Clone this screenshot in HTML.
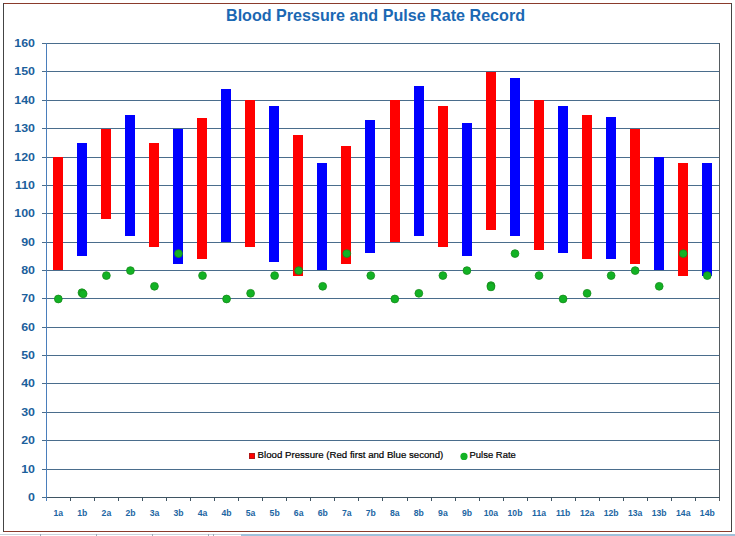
<!DOCTYPE html>
<html><head><meta charset="utf-8"><title>Blood Pressure and Pulse Rate Record</title>
<style>
html,body{margin:0;padding:0;background:#fff;}
body{width:735px;height:536px;position:relative;overflow:hidden;font-family:"Liberation Sans",sans-serif;}
</style></head><body>
<svg width="735" height="536" viewBox="0 0 735 536" style="position:absolute;left:0;top:0">
<rect x="0" y="533" width="735" height="3" fill="#ffffff"/>
<rect x="0" y="534" width="241" height="1" fill="#c9d3dc"/>
<rect x="241" y="534" width="494" height="2" fill="#9fc0da"/>
<rect x="40" y="534" width="1" height="2" fill="#9aa8b6"/>
<rect x="96" y="534" width="1" height="2" fill="#9aa8b6"/>
<rect x="152" y="534" width="1" height="2" fill="#9aa8b6"/>
<rect x="208" y="534" width="1" height="2" fill="#9aa8b6"/>
<rect x="213" y="534" width="1" height="2" fill="#9aa8b6"/>
<rect x="3.5" y="3.5" width="728" height="528" fill="#ffffff" stroke="none"/>
<line x1="3" y1="3.5" x2="732" y2="3.5" stroke="#8a3b2c" stroke-width="1"/>
<line x1="3" y1="531.5" x2="732" y2="531.5" stroke="#8a3b2c" stroke-width="1"/>
<line x1="3.5" y1="3" x2="3.5" y2="532" stroke="#444" stroke-width="1"/>
<line x1="731.5" y1="3" x2="731.5" y2="532" stroke="#444" stroke-width="1"/>
<text x="226" y="21" font-family="Liberation Sans, sans-serif" font-weight="bold" font-size="16.5" fill="#1b68b3" textLength="299" lengthAdjust="spacingAndGlyphs">Blood Pressure and Pulse Rate Record</text>
<rect x="46" y="469" width="673" height="1" fill="#4a6d8c"/>
<rect x="46" y="440" width="673" height="1" fill="#4a6d8c"/>
<rect x="46" y="412" width="673" height="1" fill="#4a6d8c"/>
<rect x="46" y="383" width="673" height="1" fill="#4a6d8c"/>
<rect x="46" y="355" width="673" height="1" fill="#4a6d8c"/>
<rect x="46" y="327" width="673" height="1" fill="#4a6d8c"/>
<rect x="46" y="298" width="673" height="1" fill="#4a6d8c"/>
<rect x="46" y="270" width="673" height="1" fill="#4a6d8c"/>
<rect x="46" y="242" width="673" height="1" fill="#4a6d8c"/>
<rect x="46" y="213" width="673" height="1" fill="#4a6d8c"/>
<rect x="46" y="185" width="673" height="1" fill="#4a6d8c"/>
<rect x="46" y="157" width="673" height="1" fill="#4a6d8c"/>
<rect x="46" y="128" width="673" height="1" fill="#4a6d8c"/>
<rect x="46" y="100" width="673" height="1" fill="#4a6d8c"/>
<rect x="46" y="71" width="673" height="1" fill="#4a6d8c"/>
<rect x="46" y="43" width="673" height="1" fill="#4a6d8c"/>
<rect x="719" y="43" width="1" height="458" fill="#555b60"/>
<rect x="46" y="497" width="674" height="1" fill="#3f5563"/>
<rect x="70" y="498" width="1" height="3" fill="#3f5563"/>
<rect x="94" y="498" width="1" height="3" fill="#3f5563"/>
<rect x="118" y="498" width="1" height="3" fill="#3f5563"/>
<rect x="142" y="498" width="1" height="3" fill="#3f5563"/>
<rect x="166" y="498" width="1" height="3" fill="#3f5563"/>
<rect x="190" y="498" width="1" height="3" fill="#3f5563"/>
<rect x="214" y="498" width="1" height="3" fill="#3f5563"/>
<rect x="238" y="498" width="1" height="3" fill="#3f5563"/>
<rect x="262" y="498" width="1" height="3" fill="#3f5563"/>
<rect x="286" y="498" width="1" height="3" fill="#3f5563"/>
<rect x="310" y="498" width="1" height="3" fill="#3f5563"/>
<rect x="334" y="498" width="1" height="3" fill="#3f5563"/>
<rect x="358" y="498" width="1" height="3" fill="#3f5563"/>
<rect x="382" y="498" width="1" height="3" fill="#3f5563"/>
<rect x="407" y="498" width="1" height="3" fill="#3f5563"/>
<rect x="431" y="498" width="1" height="3" fill="#3f5563"/>
<rect x="455" y="498" width="1" height="3" fill="#3f5563"/>
<rect x="479" y="498" width="1" height="3" fill="#3f5563"/>
<rect x="503" y="498" width="1" height="3" fill="#3f5563"/>
<rect x="527" y="498" width="1" height="3" fill="#3f5563"/>
<rect x="551" y="498" width="1" height="3" fill="#3f5563"/>
<rect x="575" y="498" width="1" height="3" fill="#3f5563"/>
<rect x="599" y="498" width="1" height="3" fill="#3f5563"/>
<rect x="623" y="498" width="1" height="3" fill="#3f5563"/>
<rect x="647" y="498" width="1" height="3" fill="#3f5563"/>
<rect x="671" y="498" width="1" height="3" fill="#3f5563"/>
<rect x="695" y="498" width="1" height="3" fill="#3f5563"/>
<rect x="46" y="43" width="1" height="458" fill="#4a7ebb"/>
<rect x="42" y="497" width="4" height="1" fill="#4a6d8c"/>
<rect x="42" y="469" width="4" height="1" fill="#4a6d8c"/>
<rect x="42" y="440" width="4" height="1" fill="#4a6d8c"/>
<rect x="42" y="412" width="4" height="1" fill="#4a6d8c"/>
<rect x="42" y="383" width="4" height="1" fill="#4a6d8c"/>
<rect x="42" y="355" width="4" height="1" fill="#4a6d8c"/>
<rect x="42" y="327" width="4" height="1" fill="#4a6d8c"/>
<rect x="42" y="298" width="4" height="1" fill="#4a6d8c"/>
<rect x="42" y="270" width="4" height="1" fill="#4a6d8c"/>
<rect x="42" y="242" width="4" height="1" fill="#4a6d8c"/>
<rect x="42" y="213" width="4" height="1" fill="#4a6d8c"/>
<rect x="42" y="185" width="4" height="1" fill="#4a6d8c"/>
<rect x="42" y="157" width="4" height="1" fill="#4a6d8c"/>
<rect x="42" y="128" width="4" height="1" fill="#4a6d8c"/>
<rect x="42" y="100" width="4" height="1" fill="#4a6d8c"/>
<rect x="42" y="71" width="4" height="1" fill="#4a6d8c"/>
<rect x="42" y="43" width="4" height="1" fill="#4a6d8c"/>
<text transform="translate(35,500.9) scale(1.13,1)" x="0" y="0" text-anchor="end" font-family="Liberation Sans, sans-serif" font-weight="bold" font-size="11" fill="#1b609c">0</text>
<text transform="translate(35,472.9) scale(1.13,1)" x="0" y="0" text-anchor="end" font-family="Liberation Sans, sans-serif" font-weight="bold" font-size="11" fill="#1b609c">10</text>
<text transform="translate(35,443.9) scale(1.13,1)" x="0" y="0" text-anchor="end" font-family="Liberation Sans, sans-serif" font-weight="bold" font-size="11" fill="#1b609c">20</text>
<text transform="translate(35,415.9) scale(1.13,1)" x="0" y="0" text-anchor="end" font-family="Liberation Sans, sans-serif" font-weight="bold" font-size="11" fill="#1b609c">30</text>
<text transform="translate(35,386.9) scale(1.13,1)" x="0" y="0" text-anchor="end" font-family="Liberation Sans, sans-serif" font-weight="bold" font-size="11" fill="#1b609c">40</text>
<text transform="translate(35,358.9) scale(1.13,1)" x="0" y="0" text-anchor="end" font-family="Liberation Sans, sans-serif" font-weight="bold" font-size="11" fill="#1b609c">50</text>
<text transform="translate(35,330.9) scale(1.13,1)" x="0" y="0" text-anchor="end" font-family="Liberation Sans, sans-serif" font-weight="bold" font-size="11" fill="#1b609c">60</text>
<text transform="translate(35,301.9) scale(1.13,1)" x="0" y="0" text-anchor="end" font-family="Liberation Sans, sans-serif" font-weight="bold" font-size="11" fill="#1b609c">70</text>
<text transform="translate(35,273.9) scale(1.13,1)" x="0" y="0" text-anchor="end" font-family="Liberation Sans, sans-serif" font-weight="bold" font-size="11" fill="#1b609c">80</text>
<text transform="translate(35,245.9) scale(1.13,1)" x="0" y="0" text-anchor="end" font-family="Liberation Sans, sans-serif" font-weight="bold" font-size="11" fill="#1b609c">90</text>
<text transform="translate(35,216.9) scale(1.13,1)" x="0" y="0" text-anchor="end" font-family="Liberation Sans, sans-serif" font-weight="bold" font-size="11" fill="#1b609c">100</text>
<text transform="translate(35,188.9) scale(1.13,1)" x="0" y="0" text-anchor="end" font-family="Liberation Sans, sans-serif" font-weight="bold" font-size="11" fill="#1b609c">110</text>
<text transform="translate(35,160.9) scale(1.13,1)" x="0" y="0" text-anchor="end" font-family="Liberation Sans, sans-serif" font-weight="bold" font-size="11" fill="#1b609c">120</text>
<text transform="translate(35,131.9) scale(1.13,1)" x="0" y="0" text-anchor="end" font-family="Liberation Sans, sans-serif" font-weight="bold" font-size="11" fill="#1b609c">130</text>
<text transform="translate(35,103.9) scale(1.13,1)" x="0" y="0" text-anchor="end" font-family="Liberation Sans, sans-serif" font-weight="bold" font-size="11" fill="#1b609c">140</text>
<text transform="translate(35,74.9) scale(1.13,1)" x="0" y="0" text-anchor="end" font-family="Liberation Sans, sans-serif" font-weight="bold" font-size="11" fill="#1b609c">150</text>
<text transform="translate(35,46.9) scale(1.13,1)" x="0" y="0" text-anchor="end" font-family="Liberation Sans, sans-serif" font-weight="bold" font-size="11" fill="#1b609c">160</text>
<text transform="translate(58.32,516) scale(0.96,1)" x="0" y="0" text-anchor="middle" font-family="Liberation Sans, sans-serif" font-weight="bold" font-size="9" fill="#1c66a3">1a</text>
<text transform="translate(82.35,516) scale(0.96,1)" x="0" y="0" text-anchor="middle" font-family="Liberation Sans, sans-serif" font-weight="bold" font-size="9" fill="#1c66a3">1b</text>
<text transform="translate(106.39,516) scale(0.96,1)" x="0" y="0" text-anchor="middle" font-family="Liberation Sans, sans-serif" font-weight="bold" font-size="9" fill="#1c66a3">2a</text>
<text transform="translate(130.43,516) scale(0.96,1)" x="0" y="0" text-anchor="middle" font-family="Liberation Sans, sans-serif" font-weight="bold" font-size="9" fill="#1c66a3">2b</text>
<text transform="translate(154.46,516) scale(0.96,1)" x="0" y="0" text-anchor="middle" font-family="Liberation Sans, sans-serif" font-weight="bold" font-size="9" fill="#1c66a3">3a</text>
<text transform="translate(178.50,516) scale(0.96,1)" x="0" y="0" text-anchor="middle" font-family="Liberation Sans, sans-serif" font-weight="bold" font-size="9" fill="#1c66a3">3b</text>
<text transform="translate(202.53,516) scale(0.96,1)" x="0" y="0" text-anchor="middle" font-family="Liberation Sans, sans-serif" font-weight="bold" font-size="9" fill="#1c66a3">4a</text>
<text transform="translate(226.57,516) scale(0.96,1)" x="0" y="0" text-anchor="middle" font-family="Liberation Sans, sans-serif" font-weight="bold" font-size="9" fill="#1c66a3">4b</text>
<text transform="translate(250.60,516) scale(0.96,1)" x="0" y="0" text-anchor="middle" font-family="Liberation Sans, sans-serif" font-weight="bold" font-size="9" fill="#1c66a3">5a</text>
<text transform="translate(274.64,516) scale(0.96,1)" x="0" y="0" text-anchor="middle" font-family="Liberation Sans, sans-serif" font-weight="bold" font-size="9" fill="#1c66a3">5b</text>
<text transform="translate(298.68,516) scale(0.96,1)" x="0" y="0" text-anchor="middle" font-family="Liberation Sans, sans-serif" font-weight="bold" font-size="9" fill="#1c66a3">6a</text>
<text transform="translate(322.71,516) scale(0.96,1)" x="0" y="0" text-anchor="middle" font-family="Liberation Sans, sans-serif" font-weight="bold" font-size="9" fill="#1c66a3">6b</text>
<text transform="translate(346.75,516) scale(0.96,1)" x="0" y="0" text-anchor="middle" font-family="Liberation Sans, sans-serif" font-weight="bold" font-size="9" fill="#1c66a3">7a</text>
<text transform="translate(370.78,516) scale(0.96,1)" x="0" y="0" text-anchor="middle" font-family="Liberation Sans, sans-serif" font-weight="bold" font-size="9" fill="#1c66a3">7b</text>
<text transform="translate(394.82,516) scale(0.96,1)" x="0" y="0" text-anchor="middle" font-family="Liberation Sans, sans-serif" font-weight="bold" font-size="9" fill="#1c66a3">8a</text>
<text transform="translate(418.85,516) scale(0.96,1)" x="0" y="0" text-anchor="middle" font-family="Liberation Sans, sans-serif" font-weight="bold" font-size="9" fill="#1c66a3">8b</text>
<text transform="translate(442.89,516) scale(0.96,1)" x="0" y="0" text-anchor="middle" font-family="Liberation Sans, sans-serif" font-weight="bold" font-size="9" fill="#1c66a3">9a</text>
<text transform="translate(466.93,516) scale(0.96,1)" x="0" y="0" text-anchor="middle" font-family="Liberation Sans, sans-serif" font-weight="bold" font-size="9" fill="#1c66a3">9b</text>
<text transform="translate(490.96,516) scale(0.96,1)" x="0" y="0" text-anchor="middle" font-family="Liberation Sans, sans-serif" font-weight="bold" font-size="9" fill="#1c66a3">10a</text>
<text transform="translate(515.00,516) scale(0.96,1)" x="0" y="0" text-anchor="middle" font-family="Liberation Sans, sans-serif" font-weight="bold" font-size="9" fill="#1c66a3">10b</text>
<text transform="translate(539.03,516) scale(0.96,1)" x="0" y="0" text-anchor="middle" font-family="Liberation Sans, sans-serif" font-weight="bold" font-size="9" fill="#1c66a3">11a</text>
<text transform="translate(563.07,516) scale(0.96,1)" x="0" y="0" text-anchor="middle" font-family="Liberation Sans, sans-serif" font-weight="bold" font-size="9" fill="#1c66a3">11b</text>
<text transform="translate(587.10,516) scale(0.96,1)" x="0" y="0" text-anchor="middle" font-family="Liberation Sans, sans-serif" font-weight="bold" font-size="9" fill="#1c66a3">12a</text>
<text transform="translate(611.14,516) scale(0.96,1)" x="0" y="0" text-anchor="middle" font-family="Liberation Sans, sans-serif" font-weight="bold" font-size="9" fill="#1c66a3">12b</text>
<text transform="translate(635.17,516) scale(0.96,1)" x="0" y="0" text-anchor="middle" font-family="Liberation Sans, sans-serif" font-weight="bold" font-size="9" fill="#1c66a3">13a</text>
<text transform="translate(659.21,516) scale(0.96,1)" x="0" y="0" text-anchor="middle" font-family="Liberation Sans, sans-serif" font-weight="bold" font-size="9" fill="#1c66a3">13b</text>
<text transform="translate(683.25,516) scale(0.96,1)" x="0" y="0" text-anchor="middle" font-family="Liberation Sans, sans-serif" font-weight="bold" font-size="9" fill="#1c66a3">14a</text>
<text transform="translate(707.28,516) scale(0.96,1)" x="0" y="0" text-anchor="middle" font-family="Liberation Sans, sans-serif" font-weight="bold" font-size="9" fill="#1c66a3">14b</text>
<rect x="53" y="157" width="10" height="113" fill="#ff0000"/>
<rect x="77" y="143" width="10" height="113" fill="#0000ff"/>
<rect x="101" y="129" width="10" height="90" fill="#ff0000"/>
<rect x="125" y="115" width="10" height="121" fill="#0000ff"/>
<rect x="149" y="143" width="10" height="104" fill="#ff0000"/>
<rect x="173" y="129" width="10" height="135" fill="#0000ff"/>
<rect x="197" y="118" width="10" height="141" fill="#ff0000"/>
<rect x="221" y="89" width="10" height="153" fill="#0000ff"/>
<rect x="245" y="100" width="10" height="147" fill="#ff0000"/>
<rect x="269" y="106" width="10" height="156" fill="#0000ff"/>
<rect x="293" y="135" width="10" height="141" fill="#ff0000"/>
<rect x="317" y="163" width="10" height="107" fill="#0000ff"/>
<rect x="341" y="146" width="10" height="118" fill="#ff0000"/>
<rect x="365" y="120" width="10" height="133" fill="#0000ff"/>
<rect x="390" y="100" width="10" height="142" fill="#ff0000"/>
<rect x="414" y="86" width="10" height="150" fill="#0000ff"/>
<rect x="438" y="106" width="10" height="141" fill="#ff0000"/>
<rect x="462" y="123" width="10" height="133" fill="#0000ff"/>
<rect x="486" y="72" width="10" height="158" fill="#ff0000"/>
<rect x="510" y="78" width="10" height="158" fill="#0000ff"/>
<rect x="534" y="100" width="10" height="150" fill="#ff0000"/>
<rect x="558" y="106" width="10" height="147" fill="#0000ff"/>
<rect x="582" y="115" width="10" height="144" fill="#ff0000"/>
<rect x="606" y="117" width="10" height="142" fill="#0000ff"/>
<rect x="630" y="129" width="10" height="135" fill="#ff0000"/>
<rect x="654" y="157" width="10" height="113" fill="#0000ff"/>
<rect x="678" y="163" width="10" height="113" fill="#ff0000"/>
<rect x="702" y="163" width="10" height="113" fill="#0000ff"/>
<circle cx="58.32" cy="298.98" r="3.9" fill="#12b224" stroke="#178c1c" stroke-width="0.8"/>
<circle cx="81.95" cy="292.70" r="3.9" fill="#12b224" stroke="#178c1c" stroke-width="0.8"/>
<circle cx="83.15" cy="293.80" r="3.9" fill="#12b224" stroke="#178c1c" stroke-width="0.8"/>
<circle cx="106.39" cy="275.57" r="3.9" fill="#12b224" stroke="#178c1c" stroke-width="0.8"/>
<circle cx="130.43" cy="270.60" r="3.9" fill="#12b224" stroke="#178c1c" stroke-width="0.8"/>
<circle cx="154.46" cy="286.29" r="3.9" fill="#12b224" stroke="#178c1c" stroke-width="0.8"/>
<circle cx="178.50" cy="253.58" r="3.9" fill="#12b224" stroke="#178c1c" stroke-width="0.8"/>
<circle cx="202.53" cy="275.57" r="3.9" fill="#12b224" stroke="#178c1c" stroke-width="0.8"/>
<circle cx="226.57" cy="298.98" r="3.9" fill="#12b224" stroke="#178c1c" stroke-width="0.8"/>
<circle cx="250.60" cy="293.30" r="3.9" fill="#12b224" stroke="#178c1c" stroke-width="0.8"/>
<circle cx="274.64" cy="275.57" r="3.9" fill="#12b224" stroke="#178c1c" stroke-width="0.8"/>
<circle cx="298.68" cy="270.60" r="3.9" fill="#12b224" stroke="#178c1c" stroke-width="0.8"/>
<circle cx="322.71" cy="286.29" r="3.9" fill="#12b224" stroke="#178c1c" stroke-width="0.8"/>
<circle cx="346.75" cy="253.58" r="3.9" fill="#12b224" stroke="#178c1c" stroke-width="0.8"/>
<circle cx="370.78" cy="275.57" r="3.9" fill="#12b224" stroke="#178c1c" stroke-width="0.8"/>
<circle cx="394.82" cy="298.98" r="3.9" fill="#12b224" stroke="#178c1c" stroke-width="0.8"/>
<circle cx="418.85" cy="293.30" r="3.9" fill="#12b224" stroke="#178c1c" stroke-width="0.8"/>
<circle cx="442.89" cy="275.57" r="3.9" fill="#12b224" stroke="#178c1c" stroke-width="0.8"/>
<circle cx="466.93" cy="270.60" r="3.9" fill="#12b224" stroke="#178c1c" stroke-width="0.8"/>
<circle cx="490.96" cy="285.59" r="3.9" fill="#12b224" stroke="#178c1c" stroke-width="0.8"/>
<circle cx="490.96" cy="286.89" r="3.9" fill="#12b224" stroke="#178c1c" stroke-width="0.8"/>
<circle cx="515.00" cy="253.58" r="3.9" fill="#12b224" stroke="#178c1c" stroke-width="0.8"/>
<circle cx="539.03" cy="275.57" r="3.9" fill="#12b224" stroke="#178c1c" stroke-width="0.8"/>
<circle cx="563.07" cy="298.98" r="3.9" fill="#12b224" stroke="#178c1c" stroke-width="0.8"/>
<circle cx="587.10" cy="293.30" r="3.9" fill="#12b224" stroke="#178c1c" stroke-width="0.8"/>
<circle cx="611.14" cy="275.57" r="3.9" fill="#12b224" stroke="#178c1c" stroke-width="0.8"/>
<circle cx="635.17" cy="270.60" r="3.9" fill="#12b224" stroke="#178c1c" stroke-width="0.8"/>
<circle cx="659.21" cy="286.29" r="3.9" fill="#12b224" stroke="#178c1c" stroke-width="0.8"/>
<circle cx="683.25" cy="253.58" r="3.9" fill="#12b224" stroke="#178c1c" stroke-width="0.8"/>
<circle cx="707.28" cy="275.57" r="3.9" fill="#12b224" stroke="#178c1c" stroke-width="0.8"/>
<rect x="249.5" y="453.5" width="5" height="5" fill="#ff0000" stroke="#b01818" stroke-width="1"/>
<text x="257.6" y="458.3" font-family="Liberation Sans, sans-serif" font-size="9.2" fill="#000" stroke="#000" stroke-width="0.2" textLength="185.7" lengthAdjust="spacingAndGlyphs">Blood Pressure (Red first and Blue second)</text>
<circle cx="464" cy="456.4" r="3.6" fill="#12b224"/>
<text x="469.5" y="458.3" font-family="Liberation Sans, sans-serif" font-size="9.2" fill="#000" stroke="#000" stroke-width="0.2" textLength="46.3" lengthAdjust="spacingAndGlyphs">Pulse Rate</text>
</svg>
</body></html>
